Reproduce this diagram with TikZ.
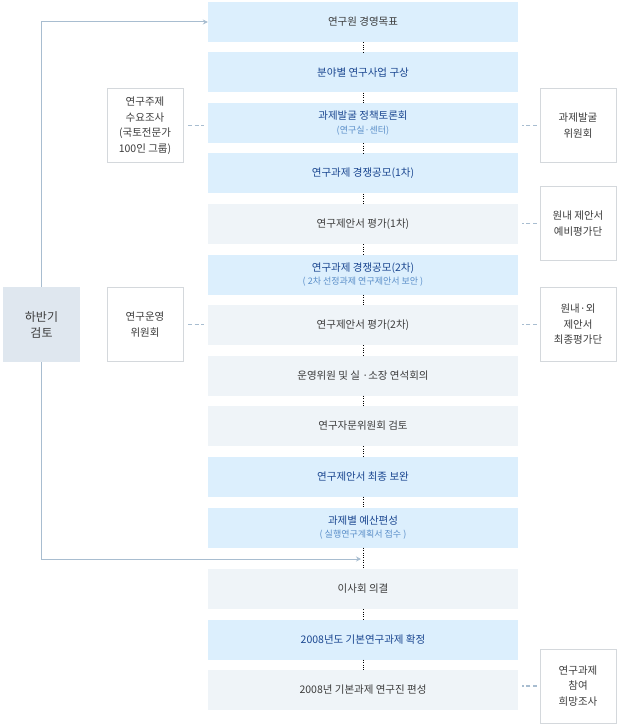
\documentclass[tikz,border=0pt]{standalone}
\usepackage{fontspec}
\usepackage{xcolor}
\usepackage{tikz}
\usetikzlibrary{arrows.meta}
\newfontfamily\krfont{Noto Sans CJK KR}
\definecolor{stepblue}{HTML}{DCEFFD}
\definecolor{stepgray}{HTML}{EFF4F8}
\definecolor{reviewfill}{HTML}{DFE7EF}
\definecolor{sideline}{HTML}{D4D8DC}
\definecolor{linkline}{HTML}{A8BDD0}
\definecolor{titleblue}{HTML}{1A4690}
\definecolor{subblue}{HTML}{5B8FC9}
\definecolor{textgray}{HTML}{3C3C3C}
\newcommand{\subline}[1]{{\fontsize{9}{11}\selectfont\color{subblue}#1}}

\begin{document}
\begin{tikzpicture}[x=1pt, y=-1pt,
    every node/.style={font=\krfont\fontsize{10.5}{13.5}\selectfont, inner sep=0pt},
    bluestep/.style={fill=stepblue, minimum width=310, minimum height=40, text=titleblue, align=center},
    graystep/.style={fill=stepgray, minimum width=310, minimum height=40, text=textgray, align=center},
    sidebox/.style={draw=sideline, fill=white, minimum width=76, minimum height=74, text=textgray, align=center,
        font=\krfont\fontsize{10.5}{15.5}\selectfont},
    dotlink/.style={black, line width=0.8pt, dash pattern=on 0.8pt off 1.6pt},
    sidelink/.style={linkline, line width=1.6pt, dash pattern=on 4pt off 2.5pt},
    feedback/.style={linkline, line width=1pt, -{Stealth[length=5pt, width=5pt]}}]
        \useasboundingbox (0,0) rectangle (619,727);

        % main flow
        \node[bluestep, text=textgray] (goal) at (363,22) {연구원 경영목표};
        \node[bluestep] (plan) at (363,72.5) {분야별 연구사업 구상};
        \node[bluestep] (forum) at (363,123) {과제발굴 정책토론회\\\subline{(연구실·센터)}};
        \node[bluestep] (call1) at (363,173.5) {연구과제 경쟁공모(1차)};
        \node[graystep] (eval1) at (363,224) {연구제안서 평가(1차)};
        \node[bluestep] (call2) at (363,274.5) {연구과제 경쟁공모(2차)\\\subline{( 2차 선정과제 연구제안서 보안 )}};
        \node[graystep] (eval2) at (363,325) {연구제안서 평가(2차)};
        \node[graystep] (joint) at (363,375.5) {운영위원 및 실 ·소장 연석회의};
        \node[graystep] (advisory) at (363,426) {연구자문위원회 검토};
        \node[bluestep] (revise) at (363,476.5) {연구제안서 최종 보완};
        \node[bluestep] (budget) at (363,527.5) {과제별 예산편성\\\subline{( 실행연구계획서 접수 )}};
        \node[graystep] (board) at (363,589) {이사회 의결};
        \node[bluestep] (confirm) at (363,639.5) {2008년도 기본연구과제 확정};
        \node[graystep] (staff) at (363,690) {2008년 기본과제 연구진 편성};

        \draw[dotlink] (goal) -- (plan) (plan) -- (forum) (forum) -- (call1) (call1) -- (eval1)
            (eval1) -- (call2) (call2) -- (eval2) (eval2) -- (joint) (joint) -- (advisory)
            (advisory) -- (revise) (revise) -- (budget) (budget) -- (board) (board) -- (confirm)
            (confirm) -- (staff);

        % half-year review
        \node[fill=reviewfill, minimum width=77, minimum height=75, align=center, text=textgray,
            font=\krfont\fontsize{12}{16}\selectfont] (halfyear) at (41.5,324.5) {하반기\\검토};
        \coordinate (merge) at (361,559);
        \draw[feedback] (halfyear.north) |- (goal.west);
        \draw[feedback] (halfyear.south) |- (merge);

        % side groups
        \node[sidebox] (demand) at (145,125.5) {연구주제\\수요조사\\(국토전문가\\100인 그룹)};
        \node[sidebox] (opcomm) at (145,324.5) {연구운영\\위원회};
        \node[sidebox] (findcomm) at (578,125.5) {과제발굴\\위원회};
        \node[sidebox] (prescreen) at (578,223.5) {원내 제안서\\예비평가단};
        \node[sidebox] (finalpanel) at (578,324.5) {원내·외\\제안서\\최종평가단};
        \node[sidebox] (survey) at (578,686) {연구과제\\참여\\희망조사};

        \draw[sidelink, shorten <=5pt, shorten >=4pt] (demand.east) -- (demand.east -| forum.west);
        \draw[sidelink, shorten <=5pt, shorten >=4pt] (opcomm.east) -- (opcomm.east -| eval2.west);
        \draw[sidelink, shorten <=3pt, shorten >=4pt] (findcomm.west) -- (findcomm.west -| forum.east);
        \draw[sidelink, shorten <=3pt, shorten >=4pt] (prescreen.west) -- (prescreen.west -| eval1.east);
        \draw[sidelink, shorten <=3pt, shorten >=4pt] (finalpanel.west) -- (finalpanel.west -| eval2.east);
        \draw[sidelink, shorten <=3pt, shorten >=4pt] (survey.west) -- (survey.west -| staff.east);
    \end{tikzpicture}
\end{document}
